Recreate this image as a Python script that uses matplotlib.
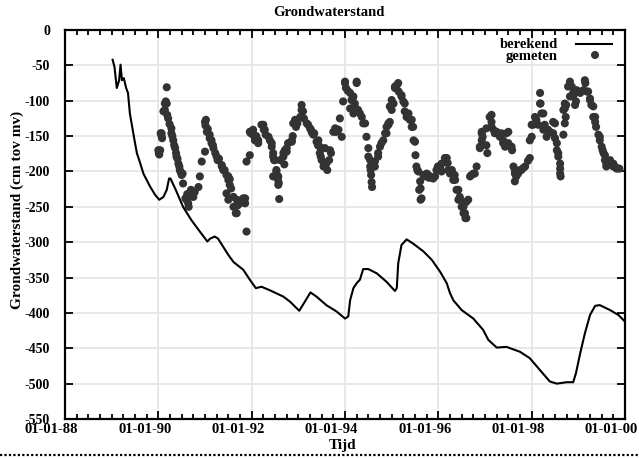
import matplotlib
matplotlib.use("Agg")
import matplotlib.pyplot as plt
from matplotlib.ticker import MultipleLocator, FixedLocator
from matplotlib.transforms import ScaledTranslation

plt.rcParams['font.family'] = ['Liberation Serif', 'DejaVu Serif']
plt.rcParams['font.weight'] = 'bold'

# ---------------- data ----------------
title = "Grondwaterstand"
xlabel = "Tijd"
ylabel = "Grondwaterstand (cm tov mv)"
legend_labels = ["berekend", "gemeten"]

x_ticks = [1988, 1990, 1992, 1994, 1996, 1998, 2000]
x_ticklabels = ["01-01-88", "01-01-90", "01-01-92", "01-01-94", "01-01-96", "01-01-98", "01-01-00"]
y_ticks = [0, -50, -100, -150, -200, -250, -300, -350, -400, -450, -500, -550]

# berekend (calculated groundwater level)
calc_t = [1989.02, 1989.06, 1989.11, 1989.16, 1989.19, 1989.22, 1989.26, 1989.31, 1989.35, 1989.39,
          1989.44, 1989.49, 1989.54, 1989.61, 1989.68, 1989.75, 1989.82, 1989.93, 1990.02, 1990.11,
          1990.18, 1990.23, 1990.26, 1990.36, 1990.53, 1990.71, 1990.89, 1991.05, 1991.11, 1991.21,
          1991.28, 1991.50, 1991.61, 1991.82, 1991.96, 1992.09, 1992.21, 1992.39, 1992.68, 1992.82,
          1993.02, 1993.14, 1993.26, 1993.39, 1993.60, 1993.82, 1994.00, 1994.07, 1994.11, 1994.18,
          1994.25, 1994.32, 1994.39, 1994.50, 1994.68, 1994.89, 1995.07, 1995.11, 1995.14, 1995.21,
          1995.32, 1995.46, 1995.68, 1995.86, 1996.04, 1996.18, 1996.25, 1996.32, 1996.50, 1996.75,
          1996.96, 1997.07, 1997.25, 1997.46, 1997.75, 1997.96, 1998.18, 1998.39, 1998.54, 1998.75,
          1998.89, 1998.95, 1999.04, 1999.14, 1999.25, 1999.36, 1999.46, 1999.68, 1999.86, 1999.98]
calc_h = [-42, -52, -82, -71, -49, -71, -68, -82, -89, -118,
          -137, -156, -174, -188, -203, -212, -221, -233, -240, -236,
          -226, -210, -210, -224, -250, -269, -285, -299, -295, -292,
          -295, -318, -328, -339, -353, -365, -363, -368, -377, -384,
          -397, -384, -371, -377, -389, -398, -408, -405, -382, -365,
          -358, -353, -338, -338, -344, -356, -369, -365, -330, -304,
          -296, -302, -313, -325, -342, -358, -372, -382, -396, -408,
          -424, -438, -449, -448, -455, -464, -481, -497, -500, -498,
          -498, -485, -457, -429, -403, -390, -389, -396, -403, -411]

# gemeten (measured), (time, level) per year
gemeten_1990 = [(1990.00, -170), (1990.01, -174), (1990.02, -176), (1990.04, -170), (1990.05, -146),
                (1990.07, -146), (1990.07, -150), (1990.08, -153), (1990.11, -115), (1990.14, -113),
                (1990.14, -104), (1990.16, -101), (1990.18, -104), (1990.18, -81), (1990.19, -120),
                (1990.21, -125), (1990.24, -133), (1990.28, -139), (1990.28, -146), (1990.30, -150),
                (1990.32, -156), (1990.34, -163), (1990.36, -167), (1990.38, -174), (1990.39, -179),
                (1990.41, -182), (1990.43, -189), (1990.45, -193), (1990.46, -198), (1990.48, -201),
                (1990.50, -205), (1990.52, -203), (1990.53, -217), (1990.58, -238), (1990.60, -240),
                (1990.62, -232), (1990.64, -245), (1990.65, -250), (1990.66, -236), (1990.68, -231),
                (1990.70, -226), (1990.73, -228), (1990.75, -236), (1990.78, -229), (1990.86, -222),
                (1990.89, -207), (1990.93, -186)]
gemeten_1991 = [(1991.00, -130), (1991.01, -135), (1991.02, -127), (1991.04, -144), (1991.06, -140),
                (1991.10, -148), (1991.10, -153), (1991.14, -156), (1991.14, -160), (1991.17, -163),
                (1991.18, -167), (1991.00, -172), (1991.22, -174), (1991.25, -179), (1991.27, -184),
                (1991.30, -182), (1991.36, -191), (1991.36, -193), (1991.39, -198), (1991.42, -198),
                (1991.46, -205), (1991.50, -207), (1991.50, -212), (1991.53, -211), (1991.53, -219),
                (1991.56, -224), (1991.46, -231), (1991.50, -240), (1991.61, -236), (1991.61, -250),
                (1991.64, -250), (1991.66, -259), (1991.68, -240), (1991.68, -259), (1991.70, -248),
                (1991.75, -245), (1991.79, -240), (1991.82, -238), (1991.86, -238), (1991.86, -245),
                (1991.89, -285), (1991.89, -186), (1991.96, -177)]
gemeten_1992 = [(1991.96, -144), (1991.98, -146), (1992.03, -141), (1992.03, -146), (1992.05, -150),
                (1992.07, -156), (1992.10, -150), (1992.14, -156), (1992.14, -160), (1992.21, -134),
                (1992.25, -134), (1992.26, -141), (1992.28, -141), (1992.30, -148), (1992.36, -151),
                (1992.39, -156), (1992.43, -160), (1992.43, -165), (1992.46, -174), (1992.46, -179),
                (1992.48, -184), (1992.50, -184), (1992.46, -207), (1992.53, -198), (1992.53, -200),
                (1992.56, -211), (1992.57, -207), (1992.58, -216), (1992.57, -219), (1992.59, -239),
                (1992.61, -184), (1992.68, -174), (1992.68, -179), (1992.70, -190), (1992.71, -170),
                (1992.75, -167), (1992.75, -172), (1992.78, -160), (1992.86, -158), (1992.86, -156),
                (1992.88, -150)]
gemeten_1993 = [(1992.89, -132), (1992.93, -127), (1992.95, -137), (1992.98, -132), (1993.04, -123),
                (1993.07, -113), (1993.07, -106), (1993.10, -115), (1993.12, -125), (1993.18, -132),
                (1993.21, -134), (1993.25, -139), (1993.27, -141), (1993.29, -145), (1993.32, -148),
                (1993.34, -146), (1993.39, -158), (1993.43, -156), (1993.42, -163), (1993.46, -165),
                (1993.46, -174), (1993.48, -179), (1993.50, -184), (1993.54, -193), (1993.57, -167),
                (1993.60, -189), (1993.62, -198), (1993.66, -184), (1993.68, -170), (1993.70, -174),
                (1993.75, -144), (1993.79, -139), (1993.81, -144), (1993.86, -141), (1993.89, -125),
                (1993.93, -151)]
gemeten_1994 = [(1993.96, -101), (1994.00, -75), (1994.00, -73), (1994.02, -82), (1994.06, -86),
                (1994.11, -89), (1994.11, -111), (1994.14, -99), (1994.16, -97), (1994.18, -94),
                (1994.18, -118), (1994.21, -104), (1994.22, -110), (1994.25, -75), (1994.25, -73),
                (1994.28, -113), (1994.32, -118), (1994.36, -123), (1994.39, -132), (1994.43, -132),
                (1994.46, -151), (1994.50, -167), (1994.50, -179), (1994.54, -184), (1994.54, -193),
                (1994.55, -198), (1994.56, -205), (1994.57, -215), (1994.58, -222), (1994.64, -186),
                (1994.64, -193), (1994.71, -174), (1994.71, -179), (1994.75, -165), (1994.78, -160),
                (1994.82, -156), (1994.86, -146), (1994.89, -137), (1994.89, -146), (1994.93, -134),
                (1994.93, -132), (1994.96, -130), (1994.96, -108), (1995.00, -113), (1995.00, -99),
                (1995.04, -104)]
gemeten_1995 = [(1995.07, -80), (1995.07, -82), (1995.11, -78), (1995.14, -75), (1995.15, -87),
                (1995.21, -92), (1995.21, -94), (1995.25, -101), (1995.28, -104), (1995.28, -115),
                (1995.32, -123), (1995.36, -118), (1995.39, -127), (1995.43, -127), (1995.43, -137),
                (1995.46, -137), (1995.47, -156), (1995.50, -158), (1995.51, -177), (1995.53, -193),
                (1995.55, -198), (1995.57, -200), (1995.61, -214), (1995.59, -226), (1995.62, -224),
                (1995.62, -240), (1995.64, -238), (1995.68, -205), (1995.70, -207), (1995.75, -203),
                (1995.78, -205), (1995.80, -209), (1995.82, -207), (1995.89, -210), (1995.93, -207),
                (1995.96, -198), (1995.99, -193)]
gemeten_1996 = [(1996.04, -193), (1996.07, -189), (1996.07, -200), (1996.14, -181), (1996.16, -186),
                (1996.18, -181), (1996.20, -188), (1996.21, -198), (1996.25, -203), (1996.29, -198),
                (1996.32, -212), (1996.35, -205), (1996.36, -212), (1996.39, -226), (1996.43, -226),
                (1996.43, -240), (1996.46, -236), (1996.47, -240), (1996.50, -250), (1996.54, -250),
                (1996.54, -259), (1996.57, -259), (1996.58, -266), (1996.60, -266), (1996.60, -243),
                (1996.64, -240), (1996.68, -207), (1996.71, -205), (1996.75, -203), (1996.78, -203),
                (1996.82, -193), (1996.89, -167), (1996.89, -165), (1996.93, -156), (1996.93, -146),
                (1996.93, -144), (1996.95, -151), (1997.03, -163), (1997.03, -139), (1997.05, -174)]
gemeten_1997 = [(1997.10, -123), (1997.14, -130), (1997.14, -120), (1997.14, -137), (1997.18, -141),
                (1997.21, -146), (1997.25, -144), (1997.30, -148), (1997.32, -151), (1997.35, -146),
                (1997.39, -156), (1997.39, -160), (1997.43, -165), (1997.46, -146), (1997.50, -144),
                (1997.50, -160), (1997.54, -165), (1997.57, -165), (1997.58, -170), (1997.61, -193),
                (1997.64, -198), (1997.64, -203), (1997.64, -214), (1997.67, -207), (1997.71, -203),
                (1997.75, -198), (1997.78, -198), (1997.82, -195), (1997.86, -193), (1997.92, -185),
                (1997.96, -181)]
gemeten_1998 = [(1997.96, -156), (1998.00, -151), (1998.00, -134), (1998.03, -134), (1998.07, -123),
                (1998.10, -127), (1998.14, -134), (1998.18, -104), (1998.18, -89), (1998.19, -104),
                (1998.21, -118), (1998.25, -118), (1998.25, -141), (1998.28, -134), (1998.32, -151),
                (1998.35, -141), (1998.39, -144), (1998.46, -130), (1998.46, -146), (1998.50, -153),
                (1998.50, -132), (1998.54, -160), (1998.54, -170), (1998.57, -174), (1998.57, -179),
                (1998.61, -189), (1998.61, -196), (1998.62, -207), (1998.61, -203), (1998.68, -148),
                (1998.68, -113), (1998.71, -132), (1998.71, -111), (1998.71, -104), (1998.73, -123),
                (1998.74, -106), (1998.78, -80), (1998.82, -73), (1998.82, -94), (1998.86, -80),
                (1998.89, -89), (1998.89, -94), (1998.93, -106), (1998.95, -101), (1998.96, -85),
                (1999.00, -87)]
gemeten_1999 = [(1999.04, -89), (1999.11, -85), (1999.14, -71), (1999.15, -75), (1999.18, -87),
                (1999.21, -87), (1999.25, -97), (1999.25, -99), (1999.28, -106), (1999.32, -108),
                (1999.32, -123), (1999.36, -123), (1999.36, -130), (1999.38, -137), (1999.43, -148),
                (1999.46, -151), (1999.46, -156), (1999.50, -165), (1999.52, -170), (1999.54, -174),
                (1999.57, -177), (1999.57, -184), (1999.60, -189), (1999.60, -193), (1999.64, -187),
                (1999.68, -184), (1999.68, -189), (1999.72, -191), (1999.75, -189), (1999.75, -193),
                (1999.80, -194), (1999.82, -196), (1999.88, -196)]

gemeten = (gemeten_1990 + gemeten_1991 + gemeten_1992 + gemeten_1993 + gemeten_1994 +
           gemeten_1995 + gemeten_1996 + gemeten_1997 + gemeten_1998 + gemeten_1999)
meas_t = [p[0] for p in gemeten]
meas_h = [p[1] for p in gemeten]

# ---------------- plot ----------------
W, H = 639, 459
fig = plt.figure(figsize=(W / 100, H / 100), dpi=100)
ax = fig.add_axes([65 / W, 1 - 419 / H, 560 / W, 389 / H])

ax.set_xlim(1988, 2000)
ax.set_ylim(-550, 0)

ax.grid(True, color='#e6e6e6', linewidth=1.3)
ax.set_axisbelow(True)

dot_color = '#333333'
dot_size = 34
ax.plot(calc_t, calc_h, color='black', linewidth=1.5, zorder=3)
ax.scatter(meas_t, meas_h, s=dot_size, color=dot_color, edgecolors='none', zorder=4)

ax.xaxis.set_major_locator(FixedLocator(x_ticks))
ax.set_xticklabels(x_ticklabels)
ax.xaxis.set_minor_locator(MultipleLocator(0.25))
ax.yaxis.set_major_locator(FixedLocator(y_ticks))
ax.set_yticklabels([str(v) for v in y_ticks])

ax.tick_params(which='major', direction='in', length=6, width=1.3, top=True, right=True)
ax.tick_params(which='minor', direction='in', length=3.5, width=1.3, top=True, right=False,
               left=False)
ax.tick_params(axis='x', which='major', labelsize=10.5, pad=3)
ax.tick_params(axis='y', which='major', labelsize=10, pad=10.8)
for sp in ax.spines.values():
    sp.set_linewidth(1.6)

# x tick labels: right edge ~13 px right of the tick (as in the reference)
shift = ScaledTranslation(13 / 100, 0, fig.dpi_scale_trans)
for lab in ax.get_xticklabels():
    lab.set_ha('right')
    lab.set_transform(lab.get_transform() + shift)

fig.text(328.5 / W, 1 - 13 / H, title, ha='center', va='center', fontsize=10.5, fontweight='bold')
fig.text(343 / W, 1 - 446 / H, xlabel, ha='center', va='center', fontsize=11, fontweight='bold')
fig.text(17 / W, 1 - 210 / H, ylabel, ha='center', va='center', rotation=90, fontsize=11,
         fontweight='bold')

# legend (right aligned labels, samples to the right)
tr = ax.transAxes
def ax_x(px):
    return (px - 65) / 560
def ax_y(py):
    return (419 - py) / 389
ax.text(ax_x(558), ax_y(44), legend_labels[0], transform=tr, ha='right', va='center',
        fontsize=10.5, fontweight='bold')
ax.text(ax_x(558), ax_y(56), legend_labels[1], transform=tr, ha='right', va='center',
        fontsize=10.5, fontweight='bold')
ax.plot([ax_x(576), ax_x(612)], [ax_y(44), ax_y(44)], transform=tr, color='black',
        linewidth=1.5, clip_on=False)
ax.scatter([ax_x(595)], [ax_y(55)], transform=tr, s=dot_size, color=dot_color,
           edgecolors='none', clip_on=False)

# dotted border line at bottom
fig.add_artist(plt.Line2D([0, 1], [1 - 455 / H, 1 - 455 / H], transform=fig.transFigure,
                          color='black', linewidth=1.6, linestyle=(0, (1, 1))))

fig.savefig("out.png", dpi=100)
